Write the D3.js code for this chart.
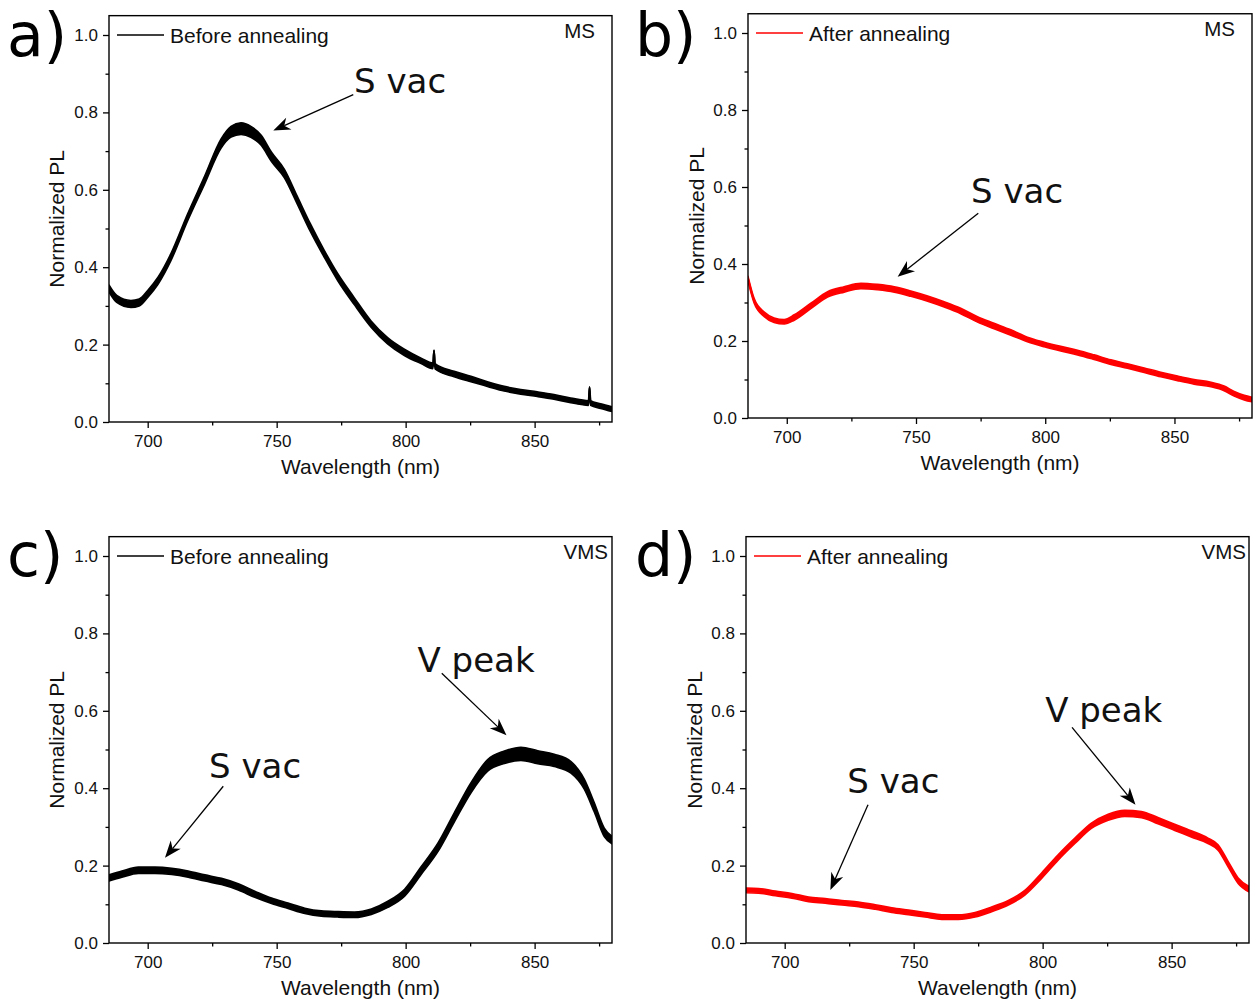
<!DOCTYPE html>
<html>
<head>
<meta charset="utf-8">
<script src="https://cdn.jsdelivr.net/npm/d3@7"></script>
<style>
  html, body { margin: 0; padding: 0; background: #ffffff; }
  svg { display: block; }
</style>
</head>
<body>
<svg id="fig" width="1254" height="999"></svg>
<script>
// ---- PL spectra: wavelength (nm), normalized PL, half-width of the noise band ----
// (a) MS, before annealing
const wlA = [685, 688, 693.5, 696.7, 700, 704, 709, 715.5, 722, 728.4, 732.3, 736.2, 740, 744, 748, 753, 758, 763, 768.5, 773.7, 780, 786.6, 793, 799.5, 806, 810.6, 811.0, 811.4, 818.8, 825.3, 831.7, 838.2, 844.6, 851, 857.5, 864, 870.9, 871.3, 871.7, 875.6, 880];
const plA = [0.345, 0.318, 0.305, 0.309, 0.331, 0.365, 0.426, 0.529, 0.624, 0.719, 0.750, 0.758, 0.750, 0.728, 0.685, 0.642, 0.573, 0.503, 0.434, 0.374, 0.313, 0.253, 0.210, 0.180, 0.158, 0.145, 0.184, 0.144, 0.124, 0.111, 0.098, 0.086, 0.078, 0.072, 0.065, 0.056, 0.049, 0.089, 0.049, 0.041, 0.033];
const noiseA = [0.009, 0.009, 0.009, 0.009, 0.009, 0.009, 0.009, 0.009, 0.010, 0.012, 0.014, 0.015, 0.014, 0.013, 0.012, 0.011, 0.010, 0.010, 0.009, 0.009, 0.009, 0.008, 0.008, 0.008, 0.007, 0.007, 0.002, 0.007, 0.007, 0.007, 0.006, 0.006, 0.006, 0.006, 0.006, 0.006, 0.006, 0.002, 0.006, 0.006, 0.006];

// (b) MS, after annealing
const wlB = [685, 687.4, 691.3, 695.1, 699, 702.9, 709.3, 715.8, 722.2, 728.7, 735.1, 741.6, 748, 754.5, 760.9, 767.3, 773.8, 780.2, 786.7, 793.1, 799.6, 806, 812.5, 818.9, 825.4, 831.8, 838.3, 844.7, 851.2, 857.6, 864.1, 869.2, 873.1, 877, 880];
const plB = [0.362, 0.304, 0.269, 0.254, 0.250, 0.261, 0.291, 0.321, 0.334, 0.343, 0.340, 0.334, 0.323, 0.310, 0.295, 0.278, 0.256, 0.239, 0.222, 0.204, 0.191, 0.180, 0.170, 0.158, 0.145, 0.135, 0.124, 0.113, 0.103, 0.094, 0.087, 0.077, 0.063, 0.053, 0.048];
const noiseB = [0.006, 0.006, 0.006, 0.006, 0.006, 0.007, 0.007, 0.007, 0.007, 0.007, 0.007, 0.007, 0.007, 0.007, 0.007, 0.007, 0.007, 0.007, 0.007, 0.006, 0.006, 0.006, 0.006, 0.006, 0.006, 0.006, 0.006, 0.006, 0.006, 0.006, 0.006, 0.006, 0.006, 0.006, 0.006];

// (c) VMS, before annealing
const wlC = [685, 690, 696.4, 702.8, 709.3, 715.7, 722.2, 728.6, 735.1, 741.5, 748, 754.4, 760.9, 767.3, 773.8, 780.2, 786.7, 793.1, 799.6, 806, 812.5, 818.9, 825.4, 831.8, 838.3, 844.7, 851.2, 857.6, 864.1, 869.2, 873.1, 877, 880];
const plC = [0.168, 0.178, 0.188, 0.188, 0.185, 0.178, 0.168, 0.159, 0.145, 0.126, 0.109, 0.096, 0.083, 0.076, 0.074, 0.073, 0.081, 0.100, 0.130, 0.187, 0.247, 0.325, 0.402, 0.459, 0.480, 0.489, 0.480, 0.472, 0.454, 0.411, 0.351, 0.286, 0.266];
const noiseC = [0.008, 0.008, 0.008, 0.008, 0.008, 0.008, 0.008, 0.008, 0.008, 0.008, 0.007, 0.007, 0.007, 0.007, 0.007, 0.007, 0.007, 0.008, 0.009, 0.010, 0.011, 0.012, 0.013, 0.015, 0.016, 0.017, 0.017, 0.016, 0.015, 0.013, 0.012, 0.011, 0.010];

// (d) VMS, after annealing
const wlD = [685, 689.9, 696.4, 702.8, 709.3, 715.7, 722.2, 728.6, 735.1, 741.5, 748, 754.4, 760.9, 767.3, 773.8, 780.2, 786.7, 793.1, 799.6, 806, 812.5, 818.9, 825.4, 831.8, 838.3, 844.7, 851.2, 857.6, 864.1, 868, 871.9, 875.8, 880];
const plD = [0.136, 0.135, 0.128, 0.122, 0.113, 0.109, 0.104, 0.100, 0.093, 0.085, 0.079, 0.073, 0.067, 0.067, 0.073, 0.087, 0.104, 0.130, 0.174, 0.221, 0.264, 0.303, 0.325, 0.335, 0.332, 0.316, 0.299, 0.282, 0.264, 0.247, 0.204, 0.161, 0.139];
const noiseD = [0.006, 0.006, 0.006, 0.006, 0.006, 0.006, 0.006, 0.006, 0.006, 0.006, 0.006, 0.006, 0.006, 0.006, 0.006, 0.006, 0.006, 0.006, 0.007, 0.007, 0.007, 0.007, 0.008, 0.008, 0.008, 0.008, 0.008, 0.008, 0.007, 0.007, 0.007, 0.007, 0.007];

// ---- axis ticks ----
const xMajorTicks = [700, 750, 800, 850];
const xMinorTicks = [725, 775, 825, 875];
const yMajorTicks = [0, 0.2, 0.4, 0.6, 0.8, 1.0];
const yMinorTicks = [0.1, 0.3, 0.5, 0.7, 0.9];
const xDomain = [685, 880];
const yDomain = [0, 1.05];

// ---- text ----
const panelLetters = ["a)", "b)", "c)", "d)"];
const legendLabels = ["Before annealing", "After annealing", "Before annealing", "After annealing"];
const sampleLabels = ["MS", "MS", "VMS", "VMS"];
const xTitle = "Wavelength (nm)";
const yTitle = "Normalized PL";

// ---- panel layout (pixels) ----
const panels = [
  { wl: wlA, pl: plA, noise: noiseA, color: "#000000",
    x0: 109, x1: 612, yZero: 422, yOne: 35, letterX: 7, letterY: 56, sampleDx: 17,
    yTitleX: 64, notes: [ { text: "S vac", at: [780.0, 0.849], from: [779.7, 0.846], to: [748.7, 0.753] } ] },
  { wl: wlB, pl: plB, noise: noiseB, color: "#ff0000",
    x0: 748, x1: 1252, yZero: 418, yOne: 33, letterX: 635, letterY: 56, sampleDx: 17,
    yTitleX: 704, notes: [ { text: "S vac", at: [771.3, 0.558], from: [774.1, 0.532], to: [742.9, 0.367] } ] },
  { wl: wlC, pl: plC, noise: noiseC, color: "#000000",
    x0: 109, x1: 612, yZero: 943, yOne: 556, letterX: 7, letterY: 576, sampleDx: 4,
    yTitleX: 64, notes: [
      { text: "S vac", at: [723.8, 0.426], from: [729.3, 0.405], to: [706.7, 0.220] },
      { text: "V peak", at: [804.6, 0.701], from: [814.0, 0.697], to: [839.1, 0.537] } ] },
  { wl: wlD, pl: plD, noise: noiseD, color: "#ff0000",
    x0: 746, x1: 1249, yZero: 943, yOne: 556, letterX: 635, letterY: 576, sampleDx: 3,
    yTitleX: 702, notes: [
      { text: "S vac", at: [724.3, 0.387], from: [732.3, 0.357], to: [717.7, 0.137] },
      { text: "V peak", at: [801.0, 0.570], from: [811.4, 0.557], to: [836.0, 0.357] } ] }
];

const svg = d3.select("#fig");
svg.append("rect").attr("width", 1254).attr("height", 999).attr("fill", "#ffffff");

const sansUI = "'Liberation Sans', Arial, sans-serif";
const sansNote = "'DejaVu Sans', Verdana, sans-serif";

// Filled arrow with a notched back, pointing at (tx, ty)
function drawArrow(g, sx, sy, tx, ty) {
  const ang = Math.atan2(ty - sy, tx - sx);
  const headLen = 17, halfW = 6.5, notch = 5;
  const ux = Math.cos(ang), uy = Math.sin(ang);
  const px = -uy, py = ux;
  const bx = tx - ux * headLen, by = ty - uy * headLen;
  const nx = tx - ux * (headLen - notch), ny = ty - uy * (headLen - notch);
  g.append("line")
    .attr("x1", sx).attr("y1", sy).attr("x2", nx).attr("y2", ny)
    .attr("stroke", "#000").attr("stroke-width", 1.3);
  const pts = [[tx, ty], [bx + px * halfW, by + py * halfW], [nx, ny], [bx - px * halfW, by - py * halfW]];
  g.append("path").attr("d", "M" + pts.map(p => p.join(",")).join("L") + "Z").attr("fill", "#000");
}

panels.forEach((p, i) => {
  const x = d3.scaleLinear().domain(xDomain).range([p.x0, p.x1]);
  const unit = p.yZero - p.yOne;
  const y = d3.scaleLinear().domain(yDomain).range([p.yZero, p.yZero - unit * yDomain[1]]);
  const top = y(yDomain[1]);
  const g = svg.append("g");

  // clip region for the spectrum
  const clipId = "clip" + i;
  svg.append("clipPath").attr("id", clipId)
    .append("rect").attr("x", p.x0).attr("y", top).attr("width", p.x1 - p.x0).attr("height", p.yZero - top);

  const pts = p.wl.map((w, k) => ({ w: w, v: p.pl[k], n: p.noise[k] }));

  // noisy spectrum drawn as a band around the mean trace
  const band = d3.area()
    .x(d => x(d.w))
    .y0(d => y(d.v - d.n))
    .y1(d => y(d.v + d.n))
    .curve(d3.curveMonotoneX);
  const line = d3.line().x(d => x(d.w)).y(d => y(d.v)).curve(d3.curveMonotoneX);
  const spec = g.append("g").attr("clip-path", "url(#" + clipId + ")");
  spec.append("path").attr("d", band(pts)).attr("fill", p.color)
    .attr("stroke", p.color).attr("stroke-width", 1.6).attr("stroke-linejoin", "round");
  spec.append("path").attr("d", line(pts)).attr("fill", "none")
    .attr("stroke", p.color).attr("stroke-width", 2);

  // axes
  const axStyle = sel => {
    sel.select(".domain").remove();
    sel.selectAll("line").attr("stroke", "#000").attr("stroke-width", 1.3);
    sel.selectAll("text").attr("fill", "#111").style("font-family", sansUI).style("font-size", "17px");
  };
  g.append("g").attr("transform", `translate(0,${p.yZero})`)
    .call(d3.axisBottom(x).tickValues(xMajorTicks).tickFormat(d3.format("d")).tickSizeInner(6).tickSizeOuter(0).tickPadding(7))
    .call(axStyle);
  g.append("g").attr("transform", `translate(0,${p.yZero})`)
    .call(d3.axisBottom(x).tickValues(xMinorTicks).tickFormat("").tickSizeInner(3.5).tickSizeOuter(0))
    .call(axStyle);
  g.append("g").attr("transform", `translate(${p.x0},0)`)
    .call(d3.axisLeft(y).tickValues(yMajorTicks).tickFormat(d3.format(".1f")).tickSizeInner(6).tickSizeOuter(0).tickPadding(5))
    .call(axStyle);
  g.append("g").attr("transform", `translate(${p.x0},0)`)
    .call(d3.axisLeft(y).tickValues(yMinorTicks).tickFormat("").tickSizeInner(3.5).tickSizeOuter(0))
    .call(axStyle);

  // frame
  g.append("rect").attr("x", p.x0).attr("y", top).attr("width", p.x1 - p.x0).attr("height", p.yZero - top)
    .attr("fill", "none").attr("stroke", "#000").attr("stroke-width", 1.4);

  // axis titles
  g.append("text").attr("x", (p.x0 + p.x1) / 2).attr("y", p.yZero + 52)
    .attr("text-anchor", "middle").style("font-family", sansUI).style("font-size", "21px").attr("fill", "#111")
    .text(xTitle);
  g.append("text").attr("transform", `translate(${p.yTitleX},${(p.yZero + top) / 2}) rotate(-90)`)
    .attr("text-anchor", "middle").style("font-family", sansUI).style("font-size", "21px").attr("fill", "#111")
    .text(yTitle);

  // legend
  g.append("line").attr("x1", p.x0 + 8).attr("x2", p.x0 + 55).attr("y1", y(1)).attr("y2", y(1))
    .attr("stroke", p.color).attr("stroke-width", 1.6);
  g.append("text").attr("x", p.x0 + 61).attr("y", y(1) + 8)
    .style("font-family", sansUI).style("font-size", "21px").attr("fill", "#111")
    .text(legendLabels[i]);

  // sample tag
  g.append("text").attr("x", p.x1 - p.sampleDx).attr("y", top + 22).attr("text-anchor", "end")
    .style("font-family", sansUI).style("font-size", "20.5px").attr("fill", "#111")
    .text(sampleLabels[i]);

  // annotations
  p.notes.forEach(n => {
    g.append("text").attr("x", x(n.at[0])).attr("y", y(n.at[1]))
      .style("font-family", sansNote).style("font-size", "34px").attr("fill", "#111")
      .text(n.text);
    drawArrow(g, x(n.from[0]), y(n.from[1]), x(n.to[0]), y(n.to[1]));
  });

  // panel letter
  svg.append("text").attr("x", p.letterX).attr("y", p.letterY)
    .style("font-family", sansNote).style("font-size", "60px").attr("fill", "#000")
    .text(panelLetters[i]);
});
</script>
</body>
</html>
